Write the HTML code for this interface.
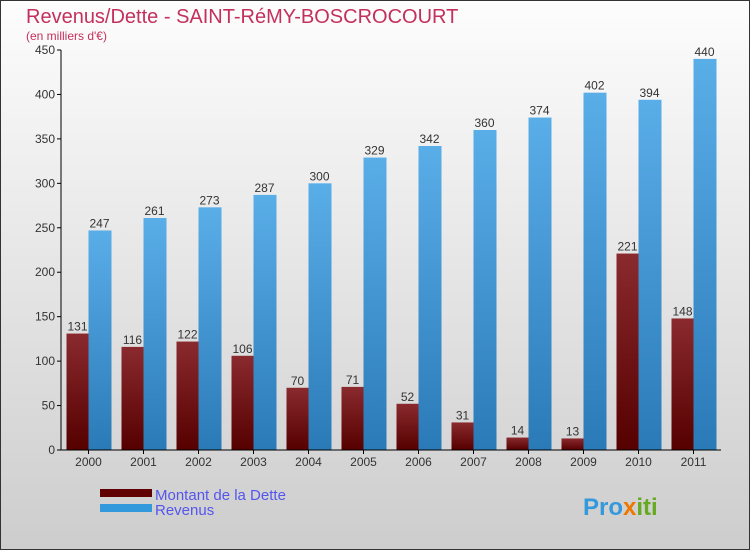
<!DOCTYPE html>
<html><head><meta charset="utf-8"><style>
body{margin:0;}
#c{width:750px;height:550px;position:relative;font-family:"Liberation Sans",sans-serif;}
</style></head><body>
<div id="c">
<svg id="s" width="750" height="550" xmlns="http://www.w3.org/2000/svg">
<defs>
<linearGradient id="bg" x1="0" y1="0" x2="0" y2="1"><stop offset="0" stop-color="#fdfdfd"/><stop offset="1" stop-color="#cdcdcd"/></linearGradient>
<linearGradient id="gd" x1="0" y1="0" x2="0" y2="1"><stop offset="0" stop-color="#8a2a2e"/><stop offset="1" stop-color="#560000"/></linearGradient>
<linearGradient id="gr" x1="0" y1="0" x2="0" y2="1"><stop offset="0" stop-color="#5aaee8"/><stop offset="1" stop-color="#2a7ab8"/></linearGradient>
</defs>
<rect x="0.5" y="0.5" width="749" height="549" fill="url(#bg)" stroke="#333"/>
<text x="26" y="23" font-size="20" fill="#c4305e">Revenus/Dette - SAINT-RéMY-BOSCROCOURT</text>
<text x="26" y="40" font-size="12" fill="#c4305e">(en milliers d'€)</text>
<g id="plot"></g>
<rect x="100" y="489" width="52" height="8" fill="#600000"/>
<text x="155" y="500" font-size="15" fill="#5555ee">Montant de la Dette</text>
<rect x="100" y="504" width="52" height="8" fill="#3399dd"/>
<text x="155" y="515" font-size="15" fill="#5555ee">Revenus</text>
<text x="583" y="515" font-size="24" font-weight="bold" fill="#3399dd">Pro<tspan fill="#ee7700">x</tspan><tspan fill="#66aa22">iti</tspan></text>
</svg></div>
<script>
const years=["2000","2001","2002","2003","2004","2005","2006","2007","2008","2009","2010","2011"];
const dette=[131,116,122,106,70,71,52,31,14,13,221,148];
const revenus=[247,261,273,287,300,329,342,360,374,402,394,440];
const ticks=[0,50,100,150,200,250,300,350,400,450];
const NS="http://www.w3.org/2000/svg";
const g=document.getElementById('plot');
const x0=61,w=660,yB=450,yT=50,max=450;
const y=v=>yB-(v/max)*(yB-yT);
const cx=i=>x0+w/years.length*(i+0.5);
function mk(t,a,txt){const e=document.createElementNS(NS,t);for(const k in a)e.setAttribute(k,a[k]);if(txt!==undefined)e.textContent=txt;g.appendChild(e);return e;}
ticks.forEach(t=>{
const l=mk('line',{x1:x0-4,x2:x0,y1:y(t),y2:y(t),stroke:'#000'});


const tx=mk('text',{x:x0-6,y:y(t)+4,'font-size':12,'text-anchor':'end',fill:'#333'},t);


});
years.forEach((yr,i)=>{
const c=cx(i);
const b1=mk('rect',{x:c-22,y:y(dette[i]),width:22,height:yB-y(dette[i]),fill:'url(#gd)'});


const b2=mk('rect',{x:c,y:y(revenus[i]),width:23,height:yB-y(revenus[i]),fill:'url(#gr)'});


const l1=mk('text',{x:c-11,y:y(dette[i])-3,'font-size':12,'text-anchor':'middle',fill:'#333'},dette[i]);


const l2=mk('text',{x:c+11,y:y(revenus[i])-3,'font-size':12,'text-anchor':'middle',fill:'#333'},revenus[i]);


const xl=mk('text',{x:c,y:466,'font-size':12,'text-anchor':'middle',fill:'#333'},yr);


const tk=mk('line',{x1:c,x2:c,y1:yB,y2:yB+4,stroke:'#000'});


});
const ya=mk('line',{x1:x0,x2:x0,y1:yT,y2:yB,stroke:'#000'});


const xa=mk('line',{x1:x0,x2:x0+w,y1:yB,y2:yB,stroke:'#000'});


</script>
</body></html>
